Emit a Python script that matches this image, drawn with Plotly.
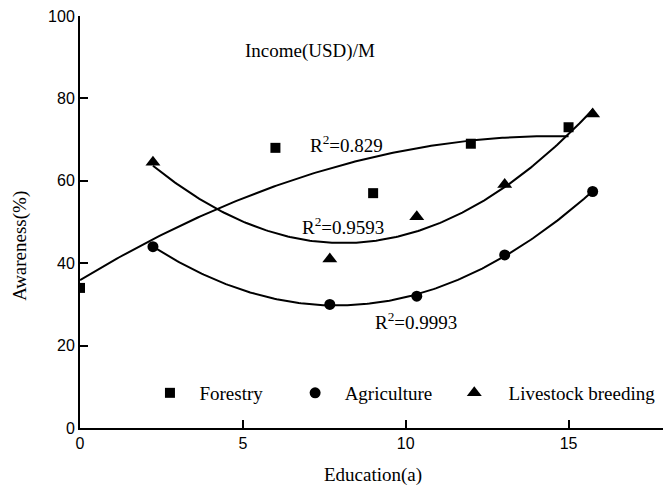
import numpy as np
import plotly.graph_objects as go

# Survey data: awareness (%) against years of education
forestry_x = [0, 6, 9, 12, 15]
forestry_y = [34, 68, 57, 69, 73]
agri_x = [2.24, 7.67, 10.34, 13.04, 15.74]
agri_y = [44, 30, 32, 42, 57.4]
live_x = [2.24, 7.67, 10.34, 13.04, 15.74]
live_y = [64.5, 41, 51.3, 59.1, 76.2]

r2_labels = ["R<sup>2</sup>=0.829", "R<sup>2</sup>=0.9593", "R<sup>2</sup>=0.9993"]
x_ticks = [0, 5, 10, 15]
y_ticks = [0, 20, 40, 60, 80, 100]

SERIF = "Liberation Serif, Times New Roman, serif"
SANS = "Liberation Sans, Arial, sans-serif"
NB = "\u00a0"


def quad_fit(xs, ys):
    coef = np.polyfit(xs, ys, 2)
    xx = np.linspace(min(xs), max(xs), 200)
    return xx, np.polyval(coef, xx)


fig = go.Figure()

series = [
    ("Forestry", forestry_x, forestry_y, "square", 10, "legend", 2),
    ("Agriculture", agri_x, agri_y, "circle", 11, "legend2", 2),
    ("Livestock breeding", live_x, live_y, "triangle-up", 13, "legend3", 3),
]

for name, xs, ys, sym, size, leg, pad in series:
    fx, fy = quad_fit(xs, ys)
    fig.add_trace(go.Scatter(x=fx, y=fy, mode="lines",
                             line=dict(color="black", width=2),
                             showlegend=False, hoverinfo="skip"))
    fig.add_trace(go.Scatter(x=xs, y=ys, mode="markers", name=NB * pad + name,
                             marker=dict(symbol=sym, size=size, color="black"),
                             legend=leg))

legend_common = dict(orientation="h", yanchor="middle", xanchor="left",
                     bgcolor="rgba(0,0,0,0)", font=dict(family=SERIF, size=19, color="black"))

fig.update_layout(
    width=663, height=487,
    margin=dict(l=80, r=0, t=16, b=59),
    paper_bgcolor="white", plot_bgcolor="white",
    legend=dict(x=0.12, y=0.085, **legend_common),
    legend2=dict(x=0.369, y=0.085, **legend_common),
    legend3=dict(x=0.642, y=0.085, **legend_common),
    xaxis=dict(range=[0, 17.9], tickvals=x_ticks, ticks="inside", ticklen=8,
               tickwidth=1.5, tickcolor="black", showline=True, linecolor="black",
               linewidth=2, showgrid=False, zeroline=False,
               tickfont=dict(family=SANS, size=16, color="black")),
    yaxis=dict(range=[0, 100], tickvals=y_ticks, ticks="inside", ticklen=8,
               tickwidth=1.5, tickcolor="black", showline=True, linecolor="black",
               linewidth=2, showgrid=False, zeroline=False,
               tickfont=dict(family=SANS, size=16, color="black")),
)

# Axis titles
fig.add_annotation(xref="paper", yref="paper", x=0.503, y=-0.114, text="Education(a)",
                   showarrow=False, xanchor="center", yanchor="middle",
                   font=dict(family=SERIF, size=19, color="black"))
fig.add_annotation(xref="paper", yref="paper", x=-0.103, y=0.442, text="Awareness(%)",
                   showarrow=False, xanchor="center", yanchor="middle", textangle=-90,
                   font=dict(family=SERIF, size=19, color="black"))

annotations = [
    dict(x=5.0, y=91.5, text="Income(USD)/M", xanchor="left"),
    dict(x=7.0, y=69.0, text=r2_labels[0], xanchor="left"),
    dict(x=6.75, y=49.0, text=r2_labels[1], xanchor="left"),
    dict(x=9.0, y=26.0, text=r2_labels[2], xanchor="left"),
]
for a in annotations:
    fig.add_annotation(xref="x", yref="y", showarrow=False, yanchor="middle",
                       font=dict(family=SERIF, size=19, color="black"), **a)

fig.write_html("out.html")
